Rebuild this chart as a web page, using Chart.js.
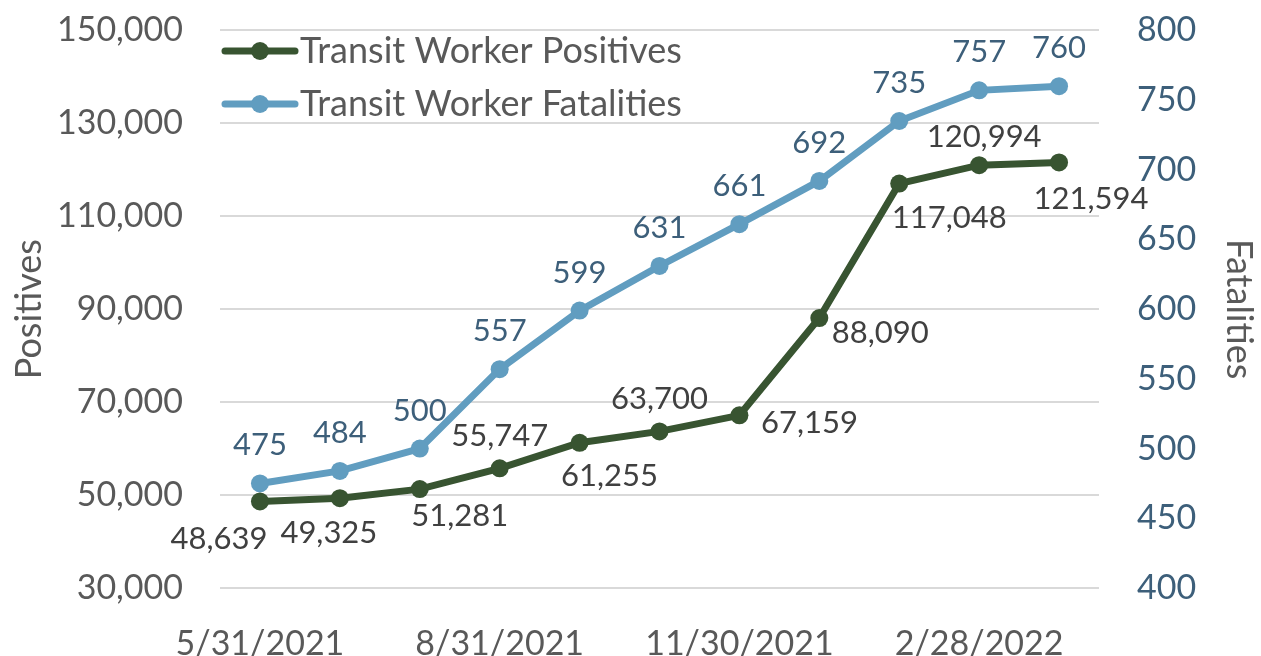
<!DOCTYPE html>
<html lang="en">
<head>
  <meta charset="UTF-8">
  <title>Transit Worker Positives and Fatalities</title>
  <script src="https://cdn.jsdelivr.net/npm/chart.js"></script>
  <style>
    body { margin: 0; background: #fff; }
    .chart-box { width: 1261px; height: 656px; position: relative; }
  </style>
</head>
<body>
  <div class="chart-box">
    <canvas id="chart"></canvas>
  </div>

  <script>
    const dates = ["5/31/2021", "6/30/2021", "7/31/2021", "8/31/2021", "9/30/2021", "10/31/2021",
                   "11/30/2021", "12/31/2021", "1/31/2022", "2/28/2022", "3/31/2022"];
    const positives = [48639, 49325, 51281, 55747, 61255, 63700, 67159, 88090, 117048, 120994, 121594];
    const fatalities = [475, 484, 500, 557, 599, 631, 661, 692, 735, 757, 760];
    const shownDates = ["5/31/2021", "8/31/2021", "11/30/2021", "2/28/2022"];

    // label nudges (dx, dy from the point)
    const posLabelShift = [[-41, 38], [-11, 35], [40, 27], [0, -32], [30, 33], [0, -32],
                           [70, 8], [61, 15], [50, 34], [5, -28], [32, 37]];
    const fatLabelShift = [0, -38];

    const GREEN = "#385431";
    const BLUE = "#619dc0";
    const GREY = "#595959";
    const NAVY = "#3d5f7a";
    const FONT = "Lato";

    const fmt = v => v.toLocaleString("en-US");

    const dataLabels = {
      id: "dataLabels",
      afterDatasetsDraw(chart) {
        const ctx = chart.ctx;
        ctx.save();
        ctx.font = `31px ${FONT}`;
        ctx.textAlign = "center";
        ctx.textBaseline = "middle";
        chart.data.datasets.forEach((ds, i) => {
          const meta = chart.getDatasetMeta(i);
          meta.data.forEach((pt, j) => {
            const shift = i === 0 ? posLabelShift[j] : fatLabelShift;
            ctx.fillStyle = i === 0 ? "#404040" : NAVY;
            ctx.fillText(fmt(ds.data[j]), pt.x + shift[0], pt.y + shift[1]);
          });
        });
        ctx.restore();
      }
    };

    const insideLegend = {
      id: "insideLegend",
      afterDraw(chart) {
        const ctx = chart.ctx;
        const left = chart.chartArea.left + 5;
        ctx.save();
        chart.data.datasets.forEach((ds, i) => {
          const y = 51 + i * 53;
          ctx.strokeStyle = ds.borderColor;
          ctx.lineWidth = 7;
          ctx.lineCap = "round";
          ctx.beginPath();
          ctx.moveTo(left, y);
          ctx.lineTo(left + 70, y);
          ctx.stroke();
          ctx.fillStyle = ds.borderColor;
          ctx.beginPath();
          ctx.arc(left + 35, y, 9, 0, Math.PI * 2);
          ctx.fill();
          ctx.fillStyle = GREY;
          ctx.font = `36px ${FONT}`;
          ctx.textAlign = "left";
          ctx.textBaseline = "middle";
          ctx.fillText(ds.label, left + 75, y);
        });
        ctx.restore();
      }
    };

    new Chart(document.getElementById("chart"), {
      type: "line",
      data: {
        labels: dates,
        datasets: [
          {
            label: "Transit Worker Positives", data: positives, yAxisID: "y",
            borderColor: GREEN, backgroundColor: GREEN, borderWidth: 7,
            pointRadius: 9, pointBackgroundColor: GREEN, pointBorderWidth: 0, tension: 0
          },
          {
            label: "Transit Worker Fatalities", data: fatalities, yAxisID: "y1",
            borderColor: BLUE, backgroundColor: BLUE, borderWidth: 7,
            pointRadius: 9, pointBackgroundColor: BLUE, pointBorderWidth: 0, tension: 0
          }
        ]
      },
      options: {
        responsive: true,
        maintainAspectRatio: false,
        animation: false,
        layout: { padding: { top: 0, left: 0, right: 0, bottom: 0 } },
        plugins: { legend: { display: false }, tooltip: { enabled: false } },
        scales: {
          x: {
            offset: true,
            grid: { display: false },
            border: { display: false },
            afterFit: s => { s.height = 68; },
            ticks: {
              autoSkip: false, maxRotation: 0, padding: 28, color: GREY,
              font: { family: FONT, size: 34 },
              callback: function (v) {
                const lbl = this.getLabelForValue(v);
                return shownDates.includes(lbl) ? lbl : "";
              }
            }
          },
          y: {
            position: "left", min: 30000, max: 150000,
            afterFit: s => { s.width = 220; },
            grid: { color: "#d9d9d9", lineWidth: 2, drawTicks: true, tickLength: 27, tickColor: "rgba(0,0,0,0)" },
            border: { display: false },
            ticks: { stepSize: 20000, padding: 10, color: GREY, font: { family: FONT, size: 34 }, callback: v => fmt(v) },
            title: { display: true, text: "Positives", color: GREY, font: { family: FONT, size: 36 }, padding: { top: 8, bottom: 0 } }
          },
          y1: {
            position: "right", min: 400, max: 800,
            afterFit: s => { s.width = 162; },
            grid: { drawOnChartArea: false, drawTicks: true, tickLength: 28, tickColor: "rgba(0,0,0,0)" },
            border: { display: false },
            ticks: { stepSize: 50, padding: 10, color: NAVY, font: { family: FONT, size: 34 } },
            title: { display: true, text: "Fatalities", color: GREY, font: { family: FONT, size: 36 }, padding: { top: 1, bottom: 0 } }
          }
        }
      },
      plugins: [dataLabels, insideLegend]
    });
  </script>
</body>
</html>
